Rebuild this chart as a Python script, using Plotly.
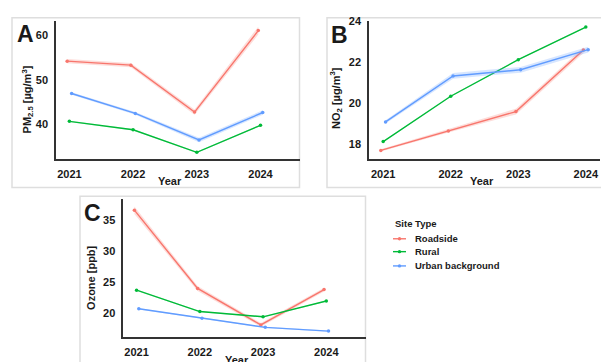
import plotly.graph_objects as go

# ---- data -------------------------------------------------------------
years = [2021, 2022, 2023, 2024]
site_types = ["Roadside", "Rural", "Urban background"]

# PM2.5 [µg/m³]
pm25_roadside = [54.2, 53.3, 42.7, 61.1]
pm25_rural = [40.6, 38.7, 33.6, 39.7]
pm25_urban = [46.9, 42.4, 36.4, 42.6]
pm25_se_roadside = [0.5, 0.5, 0.6, 0.9]
pm25_se_rural = [0.15, 0.15, 0.15, 0.15]
pm25_se_urban = [0.3, 0.3, 0.5, 0.5]

# NO2 [µg/m³]
no2_roadside = [17.71, 18.66, 19.6, 22.6]
no2_rural = [18.14, 20.35, 22.13, 23.72]
no2_urban = [19.1, 21.34, 21.64, 22.62]
no2_se_roadside = [0.06, 0.08, 0.14, 0.14]
no2_se_rural = [0.03, 0.03, 0.03, 0.03]
no2_se_urban = [0.08, 0.14, 0.14, 0.14]

# Ozone [ppb]
o3_roadside = [36.6, 23.97, 18.1, 23.8]
o3_rural = [23.7, 20.25, 19.4, 21.95]
o3_urban = [20.7, 19.15, 17.7, 17.1]
o3_se_roadside = [0.6, 0.4, 0.3, 0.3]
o3_se_rural = [0.1, 0.1, 0.1, 0.1]
o3_se_urban = [0.1, 0.1, 0.1, 0.1]

# ---- styling ----------------------------------------------------------
W, H = 601, 362
FONT = "Liberation Sans, Arial, sans-serif"
TXT = "#1a1a1a"
colors = {"Roadside": "#F8766D", "Rural": "#00BA38", "Urban background": "#619CFF"}
fills = {"Roadside": "rgba(248,118,109,0.25)", "Rural": "rgba(0,186,56,0.2)",
         "Urban background": "rgba(97,156,255,0.25)"}
dodge = {"Roadside": -0.035, "Rural": 0.0, "Urban background": 0.035}


def px(x):
    return x / W


def py(y):
    return 1 - y / H


panels = [
    ("x", "y", {"Roadside": (pm25_roadside, pm25_se_roadside),
                "Rural": (pm25_rural, pm25_se_rural),
                "Urban background": (pm25_urban, pm25_se_urban)}),
    ("x2", "y2", {"Roadside": (no2_roadside, no2_se_roadside),
                  "Rural": (no2_rural, no2_se_rural),
                  "Urban background": (no2_urban, no2_se_urban)}),
    ("x3", "y3", {"Roadside": (o3_roadside, o3_se_roadside),
                  "Rural": (o3_rural, o3_se_rural),
                  "Urban background": (o3_urban, o3_se_urban)}),
]

fig = go.Figure()
for xa, ya, series in panels:
    for name in site_types:
        vals, se = series[name]
        xs = [yr + dodge[name] for yr in years]
        upper = [v + s for v, s in zip(vals, se)]
        lower = [v - s for v, s in zip(vals, se)]
        fig.add_trace(go.Scatter(
            x=xs + xs[::-1], y=upper + lower[::-1], fill="toself",
            fillcolor=fills[name], line=dict(width=0), mode="lines",
            hoverinfo="skip", showlegend=False, xaxis=xa, yaxis=ya))
        fig.add_trace(go.Scatter(
            x=xs, y=vals, mode="lines+markers", name=name,
            line=dict(color=colors[name], width=1.4),
            marker=dict(color=colors[name], size=3.5),
            showlegend=False, xaxis=xa, yaxis=ya))

axis_common = dict(showline=True, linecolor="#333333", linewidth=1.5,
                   showgrid=False, zeroline=False, ticks="",
                   tickfont=dict(family=FONT, size=11, color=TXT, weight="bold"),
                   ticklabelstandoff=4, fixedrange=True)
xr = [2020.79, 2024.62]
fig.update_layout(
    width=W, height=H, margin=dict(l=0, r=0, t=0, b=0),
    paper_bgcolor="white", plot_bgcolor="white", showlegend=False,
    xaxis=dict(domain=[px(56), px(300)], range=xr, tickvals=years,
               anchor="y", **axis_common),
    yaxis=dict(domain=[py(156), py(15)], range=[32.0, 63.33],
               tickvals=[40, 50, 60], anchor="x", **axis_common),
    xaxis2=dict(domain=[px(369), px(600)], range=[2020.79, 2024.21],
                tickvals=years, anchor="y2", **axis_common),
    yaxis2=dict(domain=[py(156), py(15)], range=[17.27, 24.03],
                tickvals=[18, 20, 22, 24], anchor="x2", **axis_common),
    xaxis3=dict(domain=[px(123.3), px(365.5)], range=xr, tickvals=years,
                anchor="y3", **axis_common),
    yaxis3=dict(domain=[py(337), py(196)], range=[16.08, 38.44],
                tickvals=[20, 25, 30, 35], anchor="x3", **axis_common),
)

# panel frames
frame = dict(type="rect", xref="paper", yref="paper",
             line=dict(color="#dedede", width=1.5), layer="below")
fig.add_shape(x0=px(12), x1=px(299.5), y0=py(184.5), y1=py(12), **frame)
fig.add_shape(x0=px(327), x1=px(603), y0=py(184.5), y1=py(12), **frame)
fig.add_shape(x0=px(80), x1=px(365.5), y0=py(365), y1=py(193.5), **frame)


def label(x, y, text, size=11, angle=0, xanchor="center"):
    fig.add_annotation(x=px(x), y=py(y), xref="paper", yref="paper",
                       text=text, showarrow=False, textangle=angle,
                       xanchor=xanchor, yanchor="middle",
                       font=dict(family=FONT, size=size, color=TXT, weight="bold"))


# panel letters
label(25, 28.5, "A", size=23)
label(339, 29, "B", size=23)
label(92, 210, "C", size=23)

# axis titles
label(28, 95, "PM<sub>2.5</sub> [µg/m<sup>3</sup>]", angle=-90)
label(336.5, 93, "NO<sub>2</sub> [µg/m<sup>3</sup>]", angle=-90)
label(91, 276.5, "Ozone [ppb]", angle=-90)
label(170, 177.5, "Year")
label(481.5, 177.5, "Year")
label(236.5, 359.5, "Year")

# legend
label(393, 221.5, "Site Type", size=9.5, xanchor="left")
for name, yy in zip(site_types, [236.7, 249.8, 264.3]):
    fig.add_shape(type="line", xref="paper", yref="paper",
                  x0=px(393), x1=px(406), y0=py(yy), y1=py(yy),
                  line=dict(color=colors[name], width=1.4))
    fig.add_shape(type="circle", xref="paper", yref="paper",
                  x0=px(397.8), x1=px(401.2), y0=py(yy + 1.7), y1=py(yy - 1.7),
                  fillcolor=colors[name], line=dict(width=0))
    label(413, yy, name, size=9.5, xanchor="left")

fig.write_html("out.html")
